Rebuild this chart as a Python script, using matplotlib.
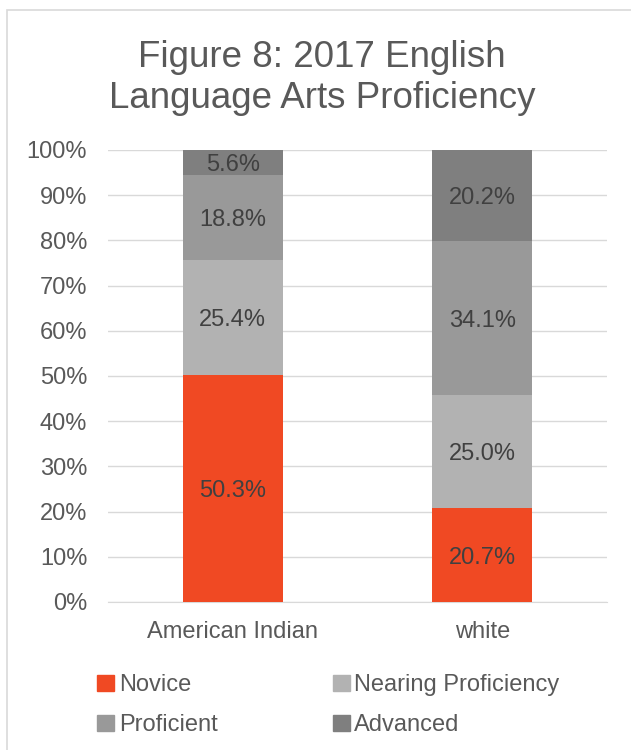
import numpy as np
import matplotlib.pyplot as plt
from matplotlib.patches import Rectangle, Patch

plt.rcParams['font.family'] = ['Liberation Sans', 'DejaVu Sans']

groups = ['American Indian', 'white']
levels = ['Novice', 'Nearing Proficiency', 'Proficient', 'Advanced']
values = {
    'Novice': [50.3, 20.7],
    'Nearing Proficiency': [25.4, 25.0],
    'Proficient': [18.8, 34.1],
    'Advanced': [5.6, 20.2],
}
colors = ['#F04923', '#B2B2B2', '#999999', '#7F7F7F']
text_col = '#595959'

fig = plt.figure(figsize=(6.31, 7.5), dpi=100)
ax = fig.add_axes([108 / 631, 1 - 602 / 750, 499 / 631, 452 / 750])

# chart border
fig.patches.append(Rectangle((7 / 631, -0.05), 1.0, 1 - 10 / 750 + 0.05,
                             transform=fig.transFigure, fill=False,
                             edgecolor='#D9D9D9', linewidth=1.2))

x = np.arange(len(groups))
bottom = np.zeros(len(groups))
for lvl, c in zip(levels, colors):
    v = np.array(values[lvl]) / 100
    top = np.minimum(bottom + v, 1.0)
    ax.bar(x, top - bottom, 0.4, bottom=bottom, color=c, label=lvl, zorder=3)
    for xi, b, t, val in zip(x, bottom, top, values[lvl]):
        ax.text(xi, (b + t) / 2, f'{val:.1f}%', ha='center', va='center_baseline',
                fontsize=17, color='#404040', zorder=4)
    bottom = top

ax.set_xlim(-0.5, 1.5)
ax.set_ylim(0, 1)
ax.set_yticks(np.arange(0, 1.01, 0.1))
ax.set_yticklabels([f'{int(round(t * 100))}%' for t in np.arange(0, 1.01, 0.1)])
ax.set_xticks(x)
ax.set_xticklabels(groups)
ax.tick_params(length=0, labelsize=17, labelcolor=text_col)
ax.tick_params(axis='y', pad=15)
ax.tick_params(axis='x', pad=14)
ax.grid(axis='y', color='#D9D9D9', linewidth=1, zorder=0)
for s in ['top', 'right', 'left']:
    ax.spines[s].set_visible(False)
ax.spines['bottom'].set_color('#D9D9D9')

fig.text(322 / 631, 1 - 78 / 750, 'Figure 8: 2017 English\nLanguage Arts Proficiency',
         ha='center', va='center', fontsize=26.5, color=text_col, linespacing=1.25)

# legend order so rows read Novice / Nearing, Proficient / Advanced
order = [0, 2, 1, 3]
handles = [Patch(color=colors[i]) for i in order]
labels = [levels[i] for i in order]
fig.legend(handles, labels, loc='upper left', bbox_to_anchor=(88 / 631, 1 - 665 / 750),
           ncol=2, frameon=False, fontsize=17, labelcolor=text_col,
           handlelength=0.7, handleheight=0.7, handletextpad=0.2,
           columnspacing=4.9, labelspacing=0.75, borderaxespad=0)

plt.savefig('out.png', dpi=100)
